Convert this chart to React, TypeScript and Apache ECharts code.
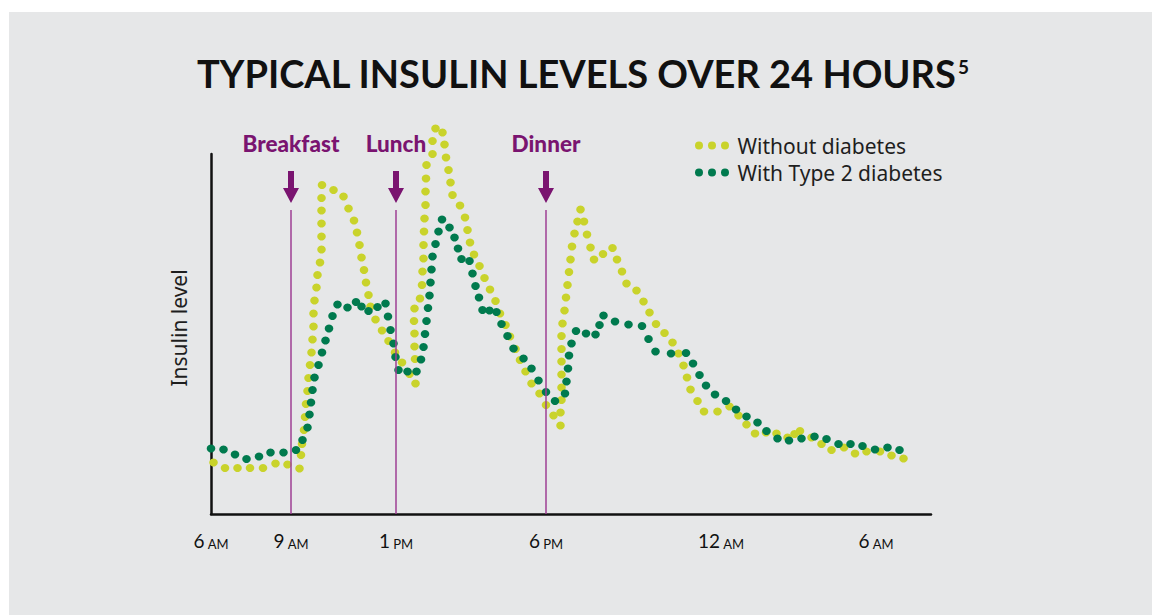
import React, { useEffect, useRef } from 'react';
import * as echarts from 'echarts';

// x axis: position along the time axis (arbitrary units); y: insulin level (arbitrary units)
const tickPos = [0, 16, 37, 67, 102, 133];
const tickHour = ['6', '9', '1', '6', '12', '6'];
const tickPeriod = ['AM', 'AM', 'PM', 'PM', 'AM', 'AM'];

const mealNames = ['Breakfast', 'Lunch', 'Dinner'];
const mealPos = [16, 37, 67];

const seriesNames = ['Without diabetes', 'With Type 2 diabetes'];

const withoutDiabetes: number[][] = [
  [0.5, 10.3], [2.8, 9.2], [5.3, 9.2], [7.8, 9.2], [10.4, 9.2], [12.9, 10.1], [15.3, 9.9], [17.7, 9.1],
  [18.0, 11.8], [18.2, 14.0], [18.6, 16.8], [18.8, 19.4], [19.0, 22.0], [19.3, 24.6], [19.5, 27.2],
  [19.8, 29.8], [20.1, 32.3], [20.3, 34.9], [20.5, 37.5], [20.5, 40.1], [20.7, 42.7], [21.1, 45.3],
  [21.3, 47.8], [21.8, 50.3], [22.1, 52.9], [22.1, 55.5], [22.1, 58.1], [22.1, 60.7], [22.1, 63.2],
  [22.2, 65.8], [24.5, 64.8], [26.5, 63.5], [27.5, 61.1], [28.6, 58.7], [29.2, 56.3], [29.7, 53.8],
  [30.1, 51.3], [30.6, 48.8], [31.0, 46.3], [31.5, 43.8], [31.9, 41.5], [32.9, 38.9], [34.2, 36.7],
  [35.5, 34.6], [36.8, 32.3], [38.2, 30.3], [39.7, 28.0], [40.9, 26.1], [40.8, 31.0], [40.7, 33.5],
  [40.7, 36.1], [40.6, 38.6], [40.7, 41.1], [41.8, 43.1], [42.2, 45.8], [42.3, 48.5], [42.5, 51.1],
  [42.5, 53.8], [42.6, 56.5], [42.7, 59.1], [42.9, 61.8], [42.9, 64.5], [43.0, 67.1], [43.1, 69.8],
  [44.3, 72.0], [44.3, 74.6], [44.9, 77.1], [46.3, 76.3], [46.7, 73.9], [47.0, 71.3], [47.5, 68.8],
  [47.9, 66.3], [48.3, 63.8], [49.8, 61.7], [50.8, 59.3], [51.3, 56.8], [51.8, 54.3], [52.6, 51.9],
  [53.7, 49.6], [54.7, 47.2], [55.8, 44.9], [56.9, 42.6], [57.8, 40.1], [58.9, 37.8], [59.8, 35.5],
  [60.9, 33.0], [61.8, 30.8], [62.9, 28.5], [64.1, 26.1], [65.7, 24.1], [67.0, 21.8], [68.5, 19.7],
  [69.9, 17.7], [69.9, 20.3], [70.1, 22.8], [70.1, 25.3], [70.1, 27.9], [70.1, 30.5], [70.1, 33.0],
  [70.1, 35.6], [70.3, 38.1], [70.7, 40.7], [71.0, 43.3], [71.3, 45.8], [71.6, 48.4], [71.9, 50.9],
  [72.2, 53.5], [72.7, 56.1], [73.3, 58.5], [73.9, 60.9], [74.6, 58.5], [75.2, 55.9], [75.9, 53.3],
  [76.6, 50.9], [78.4, 52.0], [80.3, 53.2], [81.2, 50.9], [82.2, 48.5], [83.1, 46.1], [85.1, 44.7],
  [86.5, 42.5], [87.7, 40.3], [89.0, 38.0], [90.7, 36.2], [92.3, 34.3], [93.5, 32.1], [94.5, 29.7],
  [95.2, 27.3], [95.9, 24.9], [97.3, 22.6], [98.6, 20.5], [101.3, 20.5], [103.7, 21.5], [105.5, 19.7],
  [107.1, 17.9], [108.8, 16.1], [111.0, 16.3], [113.1, 16.1], [115.3, 15.3], [116.7, 16.0], [117.8, 16.6],
  [120.1, 15.3], [122.1, 14.0], [124.1, 12.8], [126.6, 13.3], [128.8, 12.1], [131.1, 12.5], [133.8, 12.5],
  [136.1, 11.7], [138.5, 11.1],
];

const withType2: number[][] = [
  [0.0, 13.1], [2.5, 12.9], [4.8, 11.9], [7.1, 11.0], [9.6, 11.5], [11.9, 12.3], [14.5, 12.3], [17.0, 12.8],
  [18.3, 14.8], [19.3, 17.3], [19.7, 19.9], [20.0, 22.3], [20.3, 24.8], [20.7, 27.3], [21.5, 29.8],
  [22.2, 32.3], [22.9, 34.7], [23.6, 37.1], [24.3, 39.6], [25.3, 41.9], [27.3, 41.3], [29.0, 42.4],
  [30.1, 41.5], [31.5, 40.6], [33.3, 41.4], [34.9, 42.1], [35.4, 39.5], [35.9, 36.8], [36.5, 34.1],
  [36.9, 31.4], [37.5, 28.8], [39.3, 28.5], [41.1, 28.5], [42.0, 30.9], [42.5, 33.4], [42.8, 36.0],
  [43.1, 38.6], [43.4, 41.2], [43.7, 43.7], [43.9, 46.3], [44.1, 48.9], [44.3, 51.5], [44.9, 54.0],
  [45.5, 56.5], [46.2, 58.9], [47.7, 57.3], [48.7, 55.3], [49.4, 53.1], [50.1, 51.0], [51.7, 50.6],
  [52.3, 48.1], [52.9, 45.6], [53.6, 43.3], [54.3, 40.8], [55.7, 40.7], [57.1, 40.4], [58.1, 38.0],
  [59.3, 35.6], [60.5, 33.1], [62.5, 31.1], [64.1, 29.1], [65.5, 26.7], [67.0, 24.4], [68.8, 22.6],
  [70.8, 24.1], [71.1, 26.5], [71.4, 29.1], [71.6, 31.7], [72.1, 34.1], [73.0, 36.6], [75.0, 36.1],
  [76.9, 35.9], [77.7, 37.8], [78.5, 39.7], [80.8, 38.5], [83.5, 37.9], [86.2, 37.6], [87.5, 35.0],
  [88.9, 32.5], [92.0, 32.1], [95.0, 32.2], [96.4, 30.1], [97.7, 27.8], [99.0, 25.7], [100.8, 23.9],
  [103.0, 22.6], [105.0, 20.9], [107.1, 19.5], [109.3, 18.3], [111.1, 16.6], [113.3, 15.1], [115.6, 14.7],
  [118.1, 15.1], [120.7, 15.5], [123.1, 15.0], [125.5, 14.0], [127.9, 14.0], [130.3, 13.6], [132.8, 12.9],
  [135.3, 13.3], [137.7, 12.8],
];

const FONT = "Lato, 'Noto Sans', sans-serif";
const TEXT_FONT = "'Noto Sans', Lato, sans-serif";
const TITLE_FONT = "Lato, 'Noto Sans', sans-serif";
const YELLOW = '#c9d32b';
const GREEN = '#007a4e';
const PURPLE = '#7a1470';
const THREE_DOTS = 'path://M0,4a4,4 0 1,0 8,0a4,4 0 1,0 -8,0zM13,4a4,4 0 1,0 8,0a4,4 0 1,0 -8,0zM26,4a4,4 0 1,0 8,0a4,4 0 1,0 -8,0z';
const ARROW = 'path://M5,0L11,0L11,17L16,17L8,32L0,17L5,17Z';

export default function App() {
  const ref = useRef<HTMLDivElement>(null);
  useEffect(() => {
    const chart = echarts.init(ref.current!, null, { renderer: 'svg' });
    const option: any = {
      animation: false,
      backgroundColor: '#ffffff',
      graphic: {
        elements: [
          { type: 'rect', z: -100, shape: { x: 9, y: 12, width: 1143, height: 603 }, style: { fill: '#e6e7e8' } },
        ],
      },
      title: {
        text: '{a|TYPICAL INSULIN LEVELS OVER 24 HOURS}{b|5}',
        left: 197,
        top: 54,
        padding: 0,
        textStyle: {
          rich: {
            a: { fontFamily: TITLE_FONT, fontSize: 38, fontWeight: 'bold', color: '#111111', verticalAlign: 'top' },
            b: { fontFamily: TITLE_FONT, fontSize: 19, fontWeight: 'bold', color: '#111111', verticalAlign: 'top', padding: [3, 0, 0, 1] },
          },
        },
      },
      legend: {
        data: seriesNames,
        orient: 'vertical',
        left: 695,
        top: 135,
        padding: 0,
        itemGap: 6,
        itemWidth: 35,
        itemHeight: 8,
        icon: THREE_DOTS,
        textStyle: { fontFamily: TEXT_FONT, fontSize: 21, color: '#1e1e1e', padding: [0, 0, 0, 3] },
      },
      grid: { left: 211, top: 154, width: 720, height: 360 },
      xAxis: {
        type: 'value',
        min: 0,
        max: 144,
        interval: 1,
        axisLine: { show: true, lineStyle: { color: '#111111', width: 2.5 } },
        axisTick: { show: false },
        splitLine: { show: false },
        axisLabel: {
          margin: 17,
          showMinLabel: true,
          showMaxLabel: true,
          formatter: (v: number) => {
            const i = tickPos.indexOf(Math.round(v));
            if (i < 0 || Math.abs(v - tickPos[i]) > 1e-6) return '';
            return '{n|' + tickHour[i] + '} {s|' + tickPeriod[i] + '}';
          },
          rich: {
            n: { fontFamily: FONT, fontSize: 19, color: '#111111', verticalAlign: 'bottom' },
            s: { fontFamily: FONT, fontSize: 13, color: '#111111', verticalAlign: 'bottom' },
          },
        },
      },
      yAxis: {
        type: 'value',
        min: 0,
        max: 72,
        axisLine: { show: true, lineStyle: { color: '#111111', width: 2.5 } },
        axisTick: { show: false },
        axisLabel: { show: false },
        splitLine: { show: false },
        name: 'Insulin level',
        nameLocation: 'middle',
        nameGap: 22,
        nameTextStyle: { fontFamily: TEXT_FONT, fontSize: 21, color: '#1e1e1e', padding: [0, 0, 0, 12] },
      },
      series: [
        {
          name: 'meals',
          type: 'scatter',
          clip: false,
          silent: true,
          symbol: ARROW,
          symbolSize: [16, 32],
          itemStyle: { color: PURPLE, opacity: 1 },
          label: {
            show: true,
            position: 'top',
            distance: 16,
            formatter: '{b}',
            fontFamily: FONT,
            fontWeight: 900,
            fontSize: 22.5,
            color: PURPLE,
            opacity: 1,
          },
          data: mealNames.map((n, i) => ({ name: n, value: [mealPos[i], 65.4] })),
          markLine: {
            silent: true,
            symbol: ['none', 'none'],
            label: { show: false },
            lineStyle: { color: '#9e3f94', width: 1.5, type: 'solid', opacity: 1 },
            data: mealPos.map((p) => [{ coord: [p, 0] }, { coord: [p, 60.8] }]),
          },
          z: 1,
        },
        {
          name: seriesNames[0],
          type: 'scatter',
          clip: false,
          symbol: 'circle',
          symbolSize: [8.5, 8],
          itemStyle: { color: YELLOW, opacity: 1 },
          data: withoutDiabetes,
          z: 3,
        },
        {
          name: seriesNames[1],
          type: 'scatter',
          clip: false,
          symbol: 'circle',
          symbolSize: [8.5, 8],
          itemStyle: { color: GREEN, opacity: 1 },
          data: withType2,
          z: 4,
        },
      ],
    };
    chart.setOption(option);
    return () => chart.dispose();
  }, []);
  return <div ref={ref} style={{ position: 'fixed', left: 0, top: 0, width: 1152, height: 615 }} />;
}
